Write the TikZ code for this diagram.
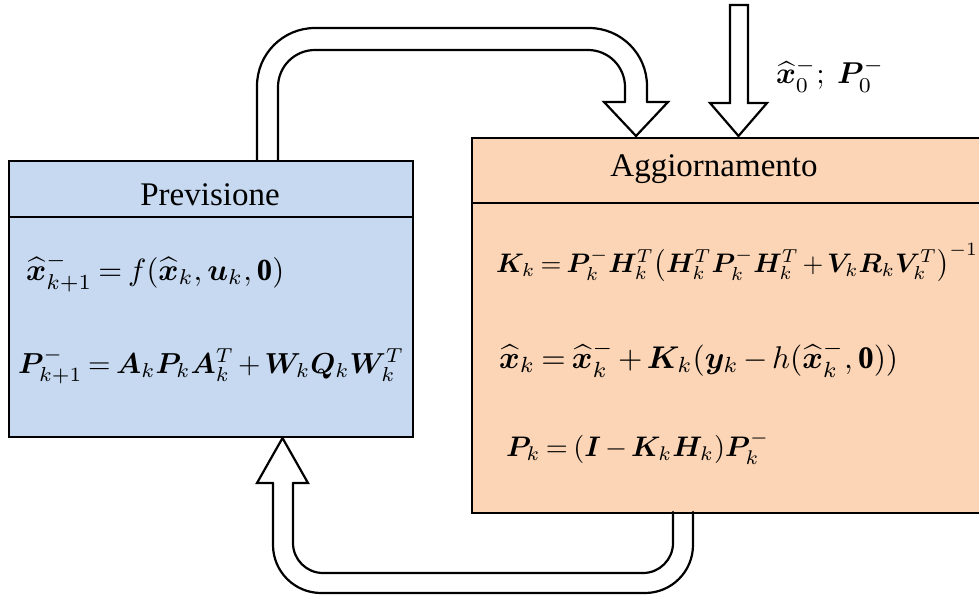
\documentclass[tikz,border=0pt]{standalone}
\usepackage{fontspec}
\setmainfont{Liberation Serif}
\usepackage{amsmath,bm}
\usepackage{graphicx}
\definecolor{prevblue}{HTML}{C6D9F1}
\definecolor{aggorange}{HTML}{FBD5B5}
\newcommand{\tighteq}[2]{\resizebox{#1}{!}{\medmuskip=2.5mu\thickmuskip=3.5mu$#2$}}
\begin{document}
\begin{tikzpicture}[x=1pt,y=-1pt, line width=2.2pt,
  box/.style={draw, inner sep=0pt, anchor=north west},
  hdr/.style={anchor=base, inner sep=0pt, font=\fontsize{33}{40}\selectfont},
  eq/.style={anchor=base west, inner sep=0pt},
  shaft/.style={line cap=round},
  head/.style={line join=miter, line cap=round}]
\useasboundingbox (0,0) rectangle (979,596);
\begin{scope}
\clip (0,0) rectangle (979,596);
% boxes
\node[box, fill=prevblue, minimum width=404pt, minimum height=276pt] (prev) at (8,160) {};
\node[box, fill=aggorange, minimum width=530pt, minimum height=375pt] (agg) at (471,137) {};
\coordinate (hp) at (0,217);
\coordinate (ha) at (0,203);
\draw (prev.west |- hp) -- (prev.east |- hp);
\draw (agg.west |- ha) -- (agg.east |- ha);
% titles
\node[hdr] (prevtitle) at (210,205) {Previsione};
\node[hdr] (aggtitle) at (714,177) {Aggiornamento};
% equations
\node[eq] (e1) at (25,280) {\tighteq{258pt}{\widehat{\bm{x}}^-_{k+1} = f(\widehat{\bm{x}}_k, \bm{u}_k, \mathbf{0})}};
\node[eq] (e2) at (17,373) {\tighteq{386pt}{\bm{P}^-_{k+1} = \bm{A}_k\bm{P}_k\bm{A}_k^T + \bm{W}_k\bm{Q}_k\bm{W}_k^T}};
\node[eq] (e3) at (495,272) {\tighteq{482pt}{\bm{K}_k = \bm{P}_k^-\bm{H}_k^T\big(\bm{H}_k^T\bm{P}_k^-\bm{H}_k^T + \bm{V}_k\bm{R}_k\bm{V}_k^T\big)^{-1}}};
\node[eq] (e4) at (498,368) {\tighteq{399pt}{\widehat{\bm{x}}_k = \widehat{\bm{x}}_k^- + \bm{K}_k(\bm{y}_k - h(\widehat{\bm{x}}_k^-, \mathbf{0}))}};
\node[eq] (e5) at (505,456) {\tighteq{263pt}{\bm{P}_k = (\bm{I} - \bm{K}_k\bm{H}_k)\bm{P}_k^-}};
\node[eq] (init) at (775,84) {\tighteq{108pt}{\widehat{\bm{x}}_0^-;\ \bm{P}_0^-}};
% top feedback arrow (Previsione -> Aggiornamento)
\draw[shaft, rounded corners=58pt] (257,160) -- (257,28) -- (647,28) -- (647,102);
\draw[shaft, rounded corners=37pt] (278,160) -- (278,50) -- (625,50) -- (625,102);
\draw[head] (625,102) -- (604,102) -- (636,136) -- (668,102) -- (647,102);
% input arrow
\draw[head] (730,5) -- (748,5) -- (748,103) -- (767,103) -- (738.5,136) -- (710,103) -- (730,103) -- cycle;
% bottom feedback arrow (Aggiornamento -> Previsione)
\draw[shaft, rounded corners=48pt] (693,512) -- (693,593) -- (273,593) -- (273,483);
\draw[shaft, rounded corners=30pt] (673,512) -- (673,573) -- (293,573) -- (293,483);
\draw[head] (293,483) -- (308,483) -- (282.5,438) -- (257,483) -- (273,483);
\end{scope}
\end{tikzpicture}
\end{document}
